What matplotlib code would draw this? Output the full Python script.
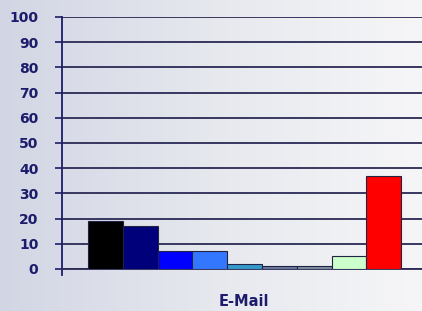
import numpy as np
import matplotlib
matplotlib.use('Agg')
import matplotlib.pyplot as plt
from matplotlib.colors import LinearSegmentedColormap

# Data
category = 'E-Mail'
values = [19, 17, 7, 7, 2, 1, 1, 5, 37]
colors = ['#000000', '#00007a', '#0000ff', '#3377ff', '#3399cc',
          '#6a7a9a', '#8090a0', '#ccffcc', '#ff0000']
yticks = [0, 10, 20, 30, 40, 50, 60, 70, 80, 90, 100]

navy = '#1c1c6a'

fig = plt.figure(figsize=(4.22, 3.11), dpi=100)

# background gradient, bluish grey on the left to near white on the right
bg = fig.add_axes([0, 0, 1, 1], zorder=-1)
grad = np.linspace(0, 1, 256).reshape(1, -1)
cmap = LinearSegmentedColormap.from_list('bg', ['#d2d6e4', '#e6e8ee', '#f6f6f8'])
bg.imshow(grad, aspect='auto', cmap=cmap, extent=[0, 1, 0, 1])
bg.axis('off')

ax = fig.add_axes([62 / 422, 42 / 311, 360 / 422, 252 / 311])
ax.patch.set_alpha(0)

x = np.arange(len(values))
ax.bar(x, values, width=1.0, align='edge', color=colors,
       edgecolor='#222244', linewidth=0.8, zorder=3)

ax.set_ylim(0, 100)
ax.set_xlim(-0.75, 9.6)
ax.set_yticks(yticks)
ax.set_yticklabels([str(t) for t in yticks], fontsize=10, fontweight='heavy', color=navy)
ax.yaxis.grid(True, color='#2a2a55', linewidth=1.3, zorder=1)
ax.set_axisbelow(True)
ax.tick_params(axis='y', length=5, width=1.2, color=navy, pad=12)
ax.set_xticks([])

for side in ['top', 'right']:
    ax.spines[side].set_visible(False)
ax.spines['left'].set_color(navy)
ax.spines['left'].set_linewidth(1.3)
ax.spines['left'].set_bounds(-2.5, 100)
ax.spines['bottom'].set_color('#2a2a55')
ax.spines['bottom'].set_linewidth(1.3)

ax.set_xlabel(category, fontsize=10.5, fontweight='heavy', color=navy, labelpad=14)
ax.xaxis.set_label_coords((244 - 62) / 360, -0.1)

fig.savefig('out.png', dpi=100)
